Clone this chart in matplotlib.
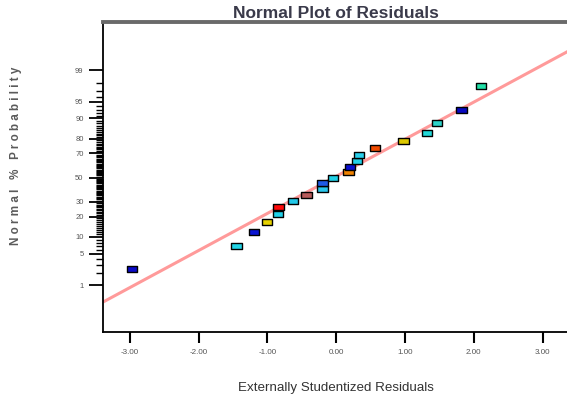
"""Normal probability plot of externally studentized residuals."""

from statistics import NormalDist

import matplotlib

matplotlib.use("Agg")
import matplotlib.pyplot as plt
from matplotlib.path import Path

# residuals (sorted) and their normal % probability
residuals = [-2.97, -1.45, -1.20, -1.01, -0.85, -0.84, -0.63, -0.43, -0.20,
             -0.20, -0.05, 0.18, 0.20, 0.30, 0.33, 0.56, 0.98, 1.32, 1.46,
             1.82, 2.10]
probability = [2.4, 7.1, 11.9, 16.7, 21.4, 26.2, 31.0, 35.7, 40.5, 45.2,
               50.0, 54.8, 59.5, 64.3, 69.0, 73.8, 78.6, 83.3, 88.1, 92.9,
               97.6]
point_colors = ["#0a0ac8", "#22d4e6", "#0a14d2", "#e6d200", "#22d0e8",
                "#ff0a0a", "#22c8e8", "#b85a5a", "#2ac6ec", "#1e5ae6",
                "#22d0e6", "#f08200", "#0a10d0", "#22d0e8", "#2ad0ec",
                "#f04a00", "#dcc800", "#22d8d8", "#2ed2c8", "#0808c0",
                "#22e0a8"]

# reference line (z = slope * residual + intercept)
line_slope = 0.803
line_intercept = 0.03

y_tick_pct = [1, 5, 10, 20, 30, 50, 70, 80, 90, 95, 99]
x_ticks = [-3, -2, -1, 0, 1, 2, 3]

nd = NormalDist()


def z(p):
    return nd.inv_cdf(p / 100.0)


fig = plt.figure(figsize=(5.67, 4.0), dpi=100)
ax = fig.add_axes([103 / 567, 68 / 400, 474 / 567, 310 / 400])

xlim = (-3.39, 3.5)
ax.set_xlim(*xlim)
ax.set_ylim(-3.34, 3.37)

ax.plot(xlim, [line_slope * v + line_intercept for v in xlim],
        color="#ff9a9a", lw=2.2, zorder=2, solid_capstyle="butt")

rect = Path([(-1.7, -1), (1.7, -1), (1.7, 1), (-1.7, 1), (-1.7, -1)],
            [Path.MOVETO, Path.LINETO, Path.LINETO, Path.LINETO,
             Path.CLOSEPOLY])
ax.scatter(residuals, [z(p) for p in probability], marker=rect, s=55,
           c=point_colors, edgecolors="black", linewidths=1.0, zorder=3)

ax.set_yticks([z(p) for p in y_tick_pct])
ax.set_yticklabels([str(p) for p in y_tick_pct])
ax.set_yticks([z(p) for p in range(1, 100) if p not in y_tick_pct],
              minor=True)
ax.set_xticks(x_ticks)
ax.set_xticklabels([f"{v:.2f}" for v in x_ticks])

ax.tick_params(axis="y", which="major", direction="out", length=10,
               width=1.3, labelsize=5.5, labelcolor="#555555", pad=4)
ax.tick_params(axis="y", which="minor", direction="out", length=5,
               width=1.0)
ax.tick_params(axis="x", which="major", direction="out", length=8,
               width=1.5, labelsize=5.8, labelcolor="#555555", pad=4)
for lab in ax.get_xticklabels() + ax.get_yticklabels():
    lab.set_family("Liberation Sans")

for side in ("left", "bottom"):
    ax.spines[side].set_linewidth(1.3)
    ax.spines[side].set_color("black")
ax.spines["top"].set_linewidth(2.8)
ax.spines["top"].set_color("#6a6a6a")
ax.spines["right"].set_visible(False)

fig.text(336 / 567, 1 - 14 / 400, "Normal Plot of Residuals",
         ha="center", va="center", fontsize=12.5, fontweight="bold",
         family="Liberation Sans", color="#3a3a4a")
fig.text(336 / 567, 1 - 388 / 400, "Externally Studentized Residuals",
         ha="center", va="center", fontsize=9.6, family="Liberation Sans",
         color="#333333")
fig.text(16 / 567, 1 - 156 / 400, "   ".join(["N o r m a l", "%",
                                             "P r o b a b i l i t y"]),
         ha="center", va="center", rotation=90, fontsize=8.4,
         fontweight="bold", family="Liberation Sans", color="#5a5a5a")

fig.savefig("out.png", dpi=100)
